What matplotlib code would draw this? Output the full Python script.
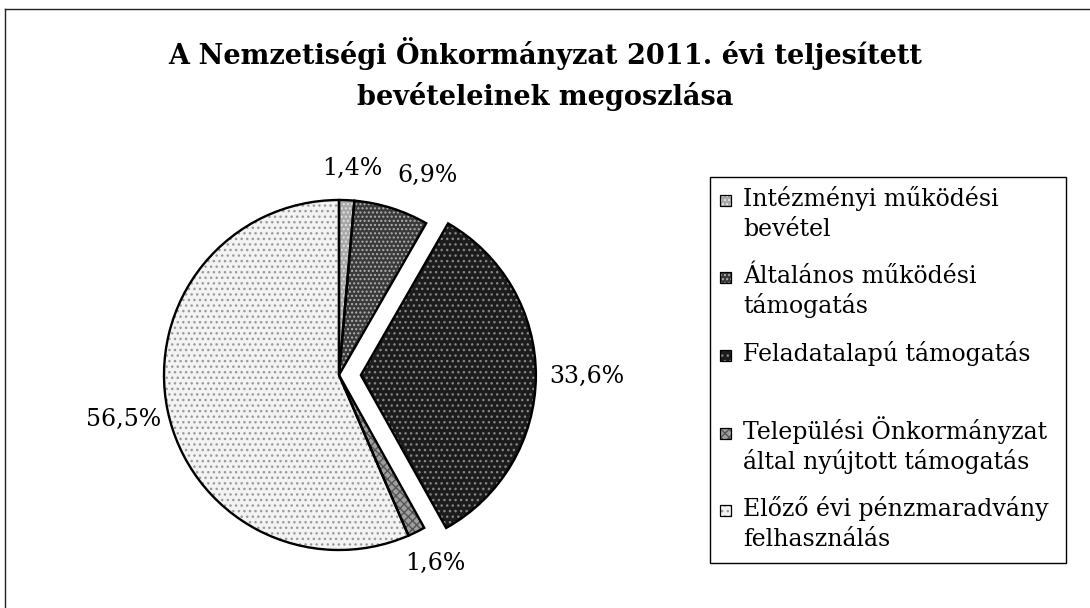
import numpy as np
import matplotlib.pyplot as plt
from matplotlib.patches import Rectangle
from matplotlib.lines import Line2D

title = 'A Nemzetiségi Önkormányzat 2011. évi teljesített\nbevételeinek megoszlása'
labels = ['Intézményi működési\nbevétel',
          'Általános működési\ntámogatás',
          'Feladatalapú támogatás',
          'Települési Önkormányzat\náltal nyújtott támogatás',
          'Előző évi pénzmaradvány\nfelhasználás']
shares = [1.4, 6.9, 33.6, 1.6, 56.5]
explode = [0, 0, 0.125, 0, 0]

# grey textures, as in the printed original
face_colors = ['#a8a8a8', '#3a3a3a', '#1c1c1c', '#9e9e9e', '#f3f3f3']
hatch_colors = ['#e2e2e2', '#b0b0b0', '#858585', '#555555', '#9a9a9a']
hatches = ['....', '....', '...', 'xxxx', '...']

# label placement like Excel's "outside end" (radius factor, angular nudge in deg)
lab_r = [1.185, 1.25, 1.29, 1.21, 1.26]
lab_nudge = [-1.1, -6.5, 0, 0.9, 0]

W, H = 1090, 608
fig = plt.figure(figsize=(W / 100, H / 100), dpi=100)

# outer chart frame (only top and left edge visible in the scan)
fig.add_artist(Line2D([5 / W, 1], [1 - 9 / H] * 2, color='#222222', lw=1))
fig.add_artist(Line2D([5 / W] * 2, [0, 1 - 9 / H], color='#222222', lw=1))

fig.text(0.5, 1 - 74 / H, title, ha='center', va='center', fontsize=19.5,
         weight='bold', family='DejaVu Serif', linespacing=1.55)

# pie
cx, cy, R = 339, 375, 175
box = 230
ax = fig.add_axes([(cx - box) / W, (H - cy - box) / H, 2 * box / W, 2 * box / H])
common = dict(startangle=90, counterclock=False, explode=explode, radius=1)

ax.pie(shares, colors=face_colors, wedgeprops=dict(linewidth=0), **common)
hatched, _ = ax.pie(shares, wedgeprops=dict(fill=False, linewidth=0), **common)
for w, h, c in zip(hatched, hatches, hatch_colors):
    w.set_hatch(h)
    w.set_edgecolor(c)
wedges, _, pcts = ax.pie(shares, autopct=lambda p: f'{p:.1f}'.replace('.', ',') + '%',
                         wedgeprops=dict(fill=False, edgecolor='black', linewidth=1.7),
                         textprops=dict(family='DejaVu Serif', fontsize=17), **common)
for w, t, r, nd in zip(wedges, pcts, lab_r, lab_nudge):
    ang = np.deg2rad((w.theta1 + w.theta2) / 2 + nd)
    x0, y0 = w.center
    t.set_position((x0 + r * np.cos(ang), y0 + r * np.sin(ang)))
    t.set_clip_on(False)

lim = box / R
ax.set_xlim(-lim, lim)
ax.set_ylim(-lim, lim)
ax.set_aspect('equal')
ax.axis('off')

# legend box
lx0, lx1, ly0, ly1 = 710, 1066, 177, 563
fig.add_artist(Rectangle((lx0 / W, 1 - ly1 / H), (lx1 - lx0) / W, (ly1 - ly0) / H,
                         fill=False, edgecolor='black', lw=1,
                         transform=fig.transFigure))
for i, lab in enumerate(labels):
    base_y = 206 + i * 77.5
    sq = (720 / W, 1 - base_y / H)
    fig.add_artist(Rectangle(sq, 11 / W, 11 / H, facecolor=face_colors[i],
                             edgecolor=hatch_colors[i], hatch=hatches[i], lw=0,
                             transform=fig.transFigure))
    fig.add_artist(Rectangle(sq, 11 / W, 11 / H, fill=False, edgecolor='black',
                             lw=0.9, transform=fig.transFigure))
    for j, line in enumerate(lab.split('\n')):
        fig.text(743 / W, 1 - (base_y + j * 30) / H, line, ha='left',
                 va='baseline', fontsize=17, family='DejaVu Serif')

fig.savefig('out.png', dpi=100)
